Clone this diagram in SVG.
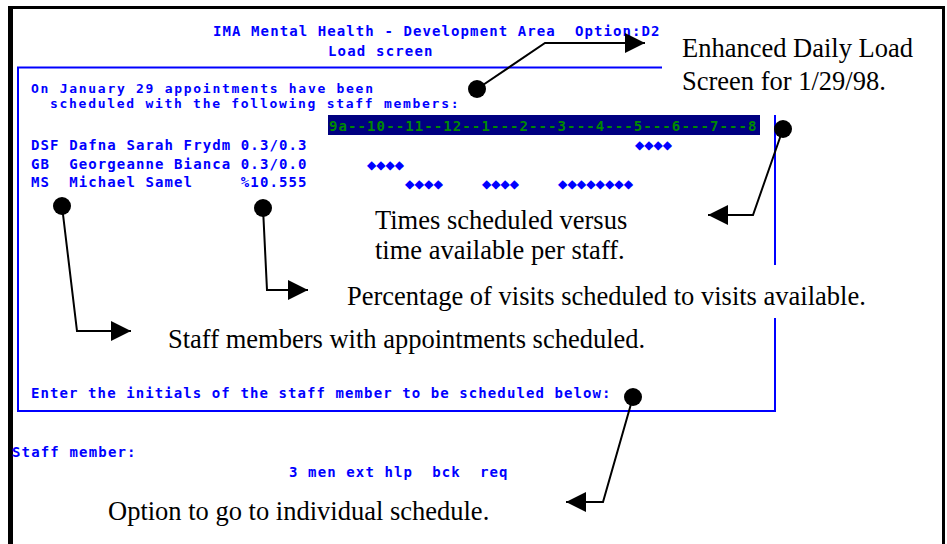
<svg xmlns="http://www.w3.org/2000/svg" width="947" height="544" viewBox="0 0 947 544" xml:space="preserve">
<defs>
<style>
.scr{font-family:"DejaVu Sans Mono","Liberation Mono",monospace;font-weight:bold;font-size:14px;fill:#0000ff;white-space:pre}
.sm{font-size:13px}
.tl{font-family:"DejaVu Sans Mono","Liberation Mono",monospace;font-weight:bold;font-size:14px;fill:#008a00;white-space:pre}
.dia{font-family:"DejaVu Sans",sans-serif;font-size:12px;fill:#0000ff}
.note{font-family:"Liberation Serif","Times New Roman",serif;font-size:26.5px;fill:#000}
.box{fill:none;stroke:#0000ff;stroke-width:2}
.conn{fill:none;stroke:#000;stroke-width:2;marker-start:url(#dot);marker-end:url(#arrow)}
</style>
<marker id="arrow" markerUnits="userSpaceOnUse" viewBox="0 0 20 20" refX="20" refY="10" markerWidth="20" markerHeight="20" orient="auto">
<path d="M0,0 L20,10 L0,20 Z" fill="#000"/>
</marker>
<marker id="dot" markerUnits="userSpaceOnUse" viewBox="0 0 20 20" refX="10" refY="10" markerWidth="20" markerHeight="20">
<circle cx="10" cy="10" r="9" fill="#000"/>
</marker>
</defs>
<rect width="947" height="544" fill="#fff"/>
<g id="frame" fill="#000">
<rect x="8" y="6" width="937" height="3"/>
<rect x="8" y="6" width="5" height="538"/>
<rect x="942" y="6" width="3" height="538"/>
</g>
<g id="screen">
<text class="scr" x="213" y="36" textLength="446.5" lengthAdjust="spacing">IMA Mental Health - Development Area  Option:D2</text>
<text class="scr" x="328" y="56" textLength="104.5" lengthAdjust="spacing">Load screen</text>
<path class="box" d="M662,67.5 H18 V411 H775 V318 M775,265 V115"/>
<text class="scr sm" x="31" y="92.5" textLength="342" lengthAdjust="spacing">On January 29 appointments have been</text>
<text class="scr sm" x="50" y="107.5" textLength="408.5" lengthAdjust="spacing">scheduled with the following staff members:</text>
<g id="timeline">
<rect x="328" y="115" width="432" height="20" fill="#000080"/>
<text class="tl" x="329" y="131" textLength="427.5" lengthAdjust="spacing">9a--10--11--12--1---2---3---4---5---6---7---8</text>
</g>
<g id="staff-rows">
<text class="scr" x="31" y="150" textLength="275.5" lengthAdjust="spacing">DSF Dafna Sarah Frydm 0.3/0.3</text>
<text class="scr" x="31" y="168.5" textLength="275.5" lengthAdjust="spacing">GB  Georgeanne Bianca 0.3/0.0</text>
<text class="scr" x="31" y="187" textLength="275.5" lengthAdjust="spacing">MS  Michael Samel     %10.555</text>
</g>
<g id="bookings">
<text class="dia" x="635" y="149" textLength="37" lengthAdjust="spacingAndGlyphs">◆◆◆◆</text>
<text class="dia" x="367" y="169" textLength="37" lengthAdjust="spacingAndGlyphs">◆◆◆◆</text>
<text class="dia" x="405" y="188" textLength="38" lengthAdjust="spacingAndGlyphs">◆◆◆◆</text>
<text class="dia" x="482" y="188" textLength="37" lengthAdjust="spacingAndGlyphs">◆◆◆◆</text>
<text class="dia" x="558" y="188" textLength="75" lengthAdjust="spacingAndGlyphs">◆◆◆◆◆◆◆◆</text>
</g>
<text class="scr" x="31" y="398" textLength="579.5" lengthAdjust="spacing">Enter the initials of the staff member to be scheduled below:</text>
<text class="scr" x="12" y="457" textLength="123.5" lengthAdjust="spacing">Staff member:</text>
<text class="scr" x="289" y="477" textLength="218.5" lengthAdjust="spacing">3 men ext hlp  bck  req</text>
</g>
<g id="note-enhanced">
<text class="note" x="682" y="57">Enhanced Daily Load</text>
<text class="note" x="682" y="90">Screen for 1/29/98.</text>
</g>
<g id="note-times">
<text class="note" x="375" y="229">Times scheduled versus</text>
<text class="note" x="375" y="259">time available per staff.</text>
</g>
<g id="note-percentage">
<text class="note" x="347" y="305">Percentage of visits scheduled to visits available.</text>
</g>
<g id="note-staff">
<text class="note" x="168" y="348">Staff members with appointments scheduled.</text>
</g>
<g id="note-option">
<text class="note" x="108" y="520">Option to go to individual schedule.</text>
</g>
<g id="connectors">
<path class="conn" d="M477,89 L545,43 L645,43"/>
<path class="conn" d="M783,129 L753,215 L708,215"/>
<path class="conn" d="M263,208 L267,290 L308,290"/>
<path class="conn" d="M62,206 L77,331 L131,331"/>
<path class="conn" d="M633,397 L603,502 L566,502"/>
</g>
</svg>
